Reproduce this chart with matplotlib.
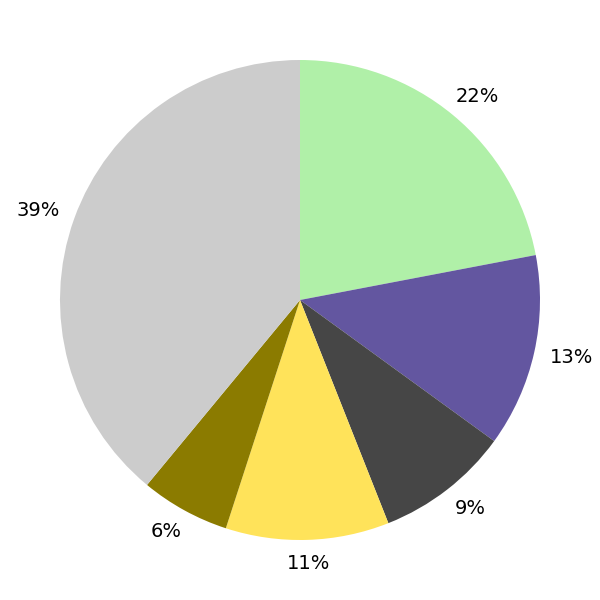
import matplotlib
matplotlib.use("Agg")
import matplotlib.pyplot as plt

# slice shares (percent), clockwise from 12 o'clock
values = [22, 13, 9, 11, 6, 39]
colors = ['#b0f0a8', '#6356a0', '#464646', '#ffe35a', '#8b7b00', '#cccccc']

fig = plt.figure(figsize=(6, 6), dpi=100)
ax = fig.add_axes([0, 0, 1, 1])
wedges, texts, autotexts = ax.pie(values, colors=colors, startangle=90, counterclock=False,
                                  autopct='%d%%', pctdistance=1.1,
                                  textprops={'fontsize': 14, 'color': 'black'})
# labels sit a bit wider horizontally than a plain circle
for t in autotexts:
    x, y = t.get_position()
    t.set_position((x * 1.055, y))
ax.set_aspect('equal')
fig.savefig('out.png', dpi=100)
